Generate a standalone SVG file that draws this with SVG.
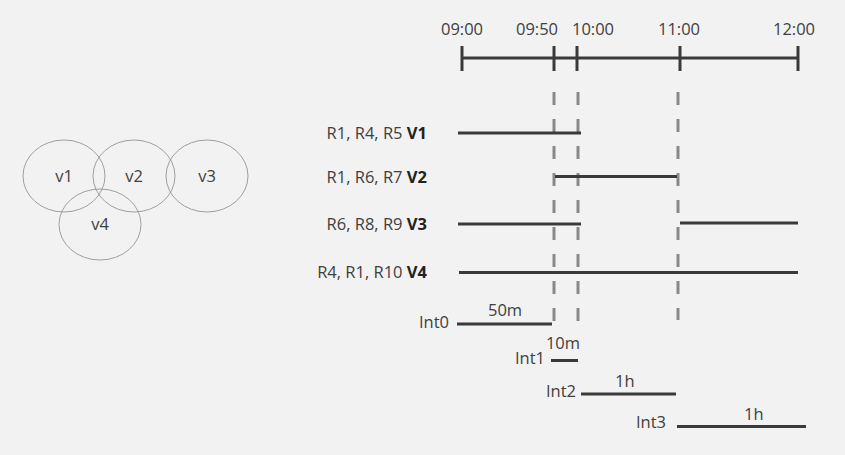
<svg xmlns="http://www.w3.org/2000/svg" width="845" height="455" viewBox="0 0 845 455">
<style>
text{font-family:"Open Sans","Noto Sans",sans-serif;font-size:16.5px;fill:#404040}
.r{text-anchor:end}
.m{text-anchor:middle}
.b{font-weight:bold;fill:#222}
.bar{stroke:#3a3a3a;stroke-width:3;fill:none}
.dash{stroke:#888;stroke-width:3;stroke-dasharray:13 14;fill:none}
.venn{fill:none;stroke:#8a8a8a;stroke-width:0.8}
</style>
<rect width="845" height="455" fill="#f2f2f2"/>
<g id="venn">
<g id="v1"><ellipse class="venn" cx="64" cy="176" rx="41" ry="36"/><text class="m" x="64" y="182">v1</text></g>
<g id="v2"><ellipse class="venn" cx="134" cy="176" rx="41" ry="36"/><text class="m" x="134" y="182">v2</text></g>
<g id="v3"><ellipse class="venn" cx="207" cy="176" rx="41" ry="36"/><text class="m" x="207" y="182">v3</text></g>
<g id="v4"><ellipse class="venn" cx="100" cy="224.5" rx="41" ry="35.5"/><text class="m" x="100" y="230">v4</text></g>
</g>
<g id="timeline">
<line class="bar" x1="462" y1="58" x2="798" y2="58"/>
<line class="bar" x1="462" y1="46" x2="462" y2="71"/>
<line class="bar" x1="554" y1="46" x2="554" y2="71"/>
<line class="bar" x1="577" y1="46" x2="577" y2="71"/>
<line class="bar" x1="680" y1="46" x2="680" y2="71"/>
<line class="bar" x1="798" y1="46" x2="798" y2="71"/>
<text class="m" x="462" y="35">09:00</text>
<text class="m" x="537" y="35">09:50</text>
<text class="m" x="593" y="35">10:00</text>
<text class="m" x="679" y="35">11:00</text>
<text class="m" x="794" y="35">12:00</text>
</g>
<g id="connectors">
<line class="dash" x1="554" y1="92" x2="554" y2="325"/>
<line class="dash" x1="578" y1="92" x2="578" y2="325"/>
<line class="dash" x1="678" y1="92" x2="678" y2="320"/>
</g>
<g id="rows">
<g id="row-v1"><text class="r" x="427" y="139">R1, R4, R5 <tspan class="b">V1</tspan></text><line class="bar" x1="458" y1="133" x2="581" y2="133"/></g>
<g id="row-v2"><text class="r" x="427" y="183">R1, R6, R7 <tspan class="b">V2</tspan></text><line class="bar" x1="555" y1="176.5" x2="677" y2="176.5"/></g>
<g id="row-v3"><text class="r" x="427" y="230">R6, R8, R9 <tspan class="b">V3</tspan></text><line class="bar" x1="458" y1="224" x2="581" y2="224"/><line class="bar" x1="680" y1="223" x2="798" y2="223"/></g>
<g id="row-v4"><text class="r" x="427" y="278">R4, R1, R10 <tspan class="b">V4</tspan></text><line class="bar" x1="459" y1="272.5" x2="798" y2="272.5"/></g>
</g>
<g id="intervals">
<g id="int0"><text x="419" y="328">Int0</text><text x="488" y="316">50m</text><line class="bar" x1="457" y1="324" x2="552" y2="324"/></g>
<g id="int1"><text x="515" y="364">Int1</text><text class="m" x="563" y="349">10m</text><line class="bar" x1="551" y1="360.5" x2="578" y2="360.5"/></g>
<g id="int2"><text x="546" y="397">Int2</text><text x="615" y="387">1h</text><line class="bar" x1="581" y1="394" x2="676" y2="394"/></g>
<g id="int3"><text x="636" y="428">Int3</text><text x="744" y="420">1h</text><line class="bar" x1="677" y1="426.5" x2="806" y2="426.5"/></g>
</g>
</svg>
